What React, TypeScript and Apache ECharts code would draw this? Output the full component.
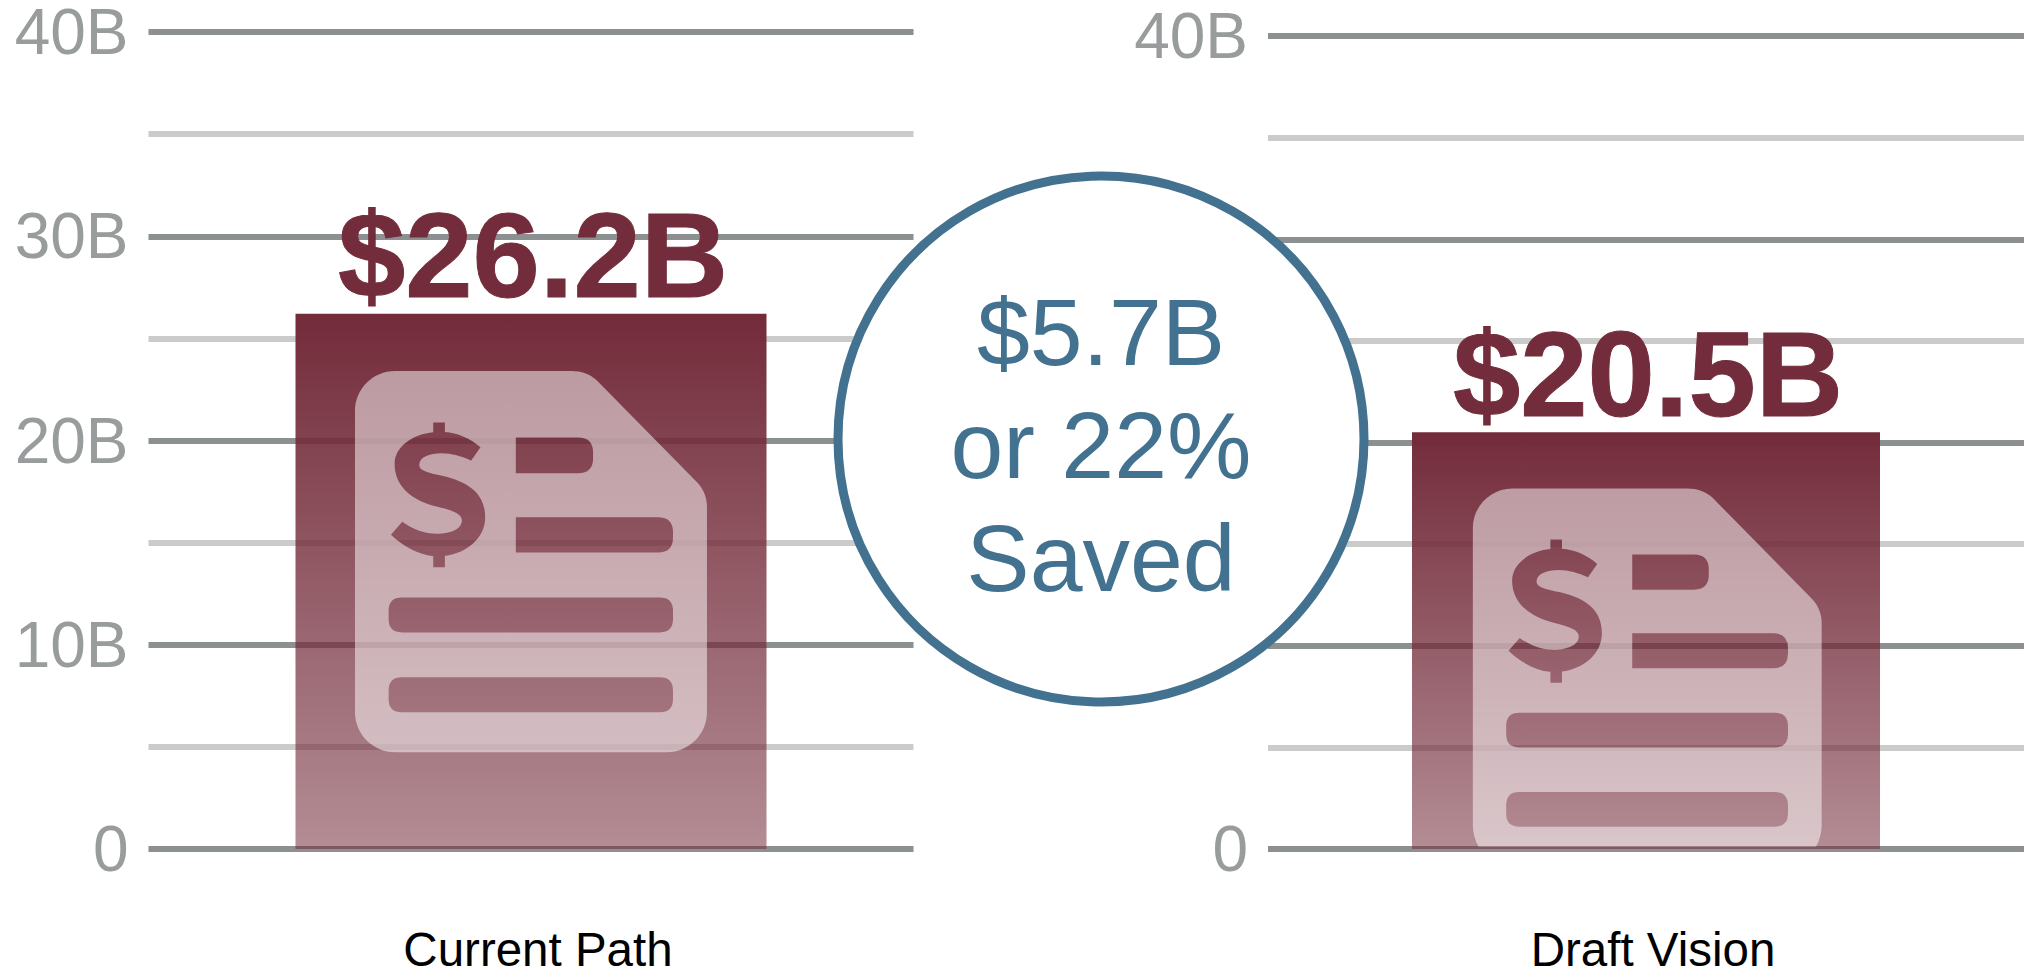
import React, { useEffect, useRef } from "react";
import * as echarts from "echarts";

const leftCategories = ["Current Path"];
const rightCategories = ["Draft Vision"];
const leftValues = [26.2];
const rightValues = [20.5];
const leftTickLabels = ["0", "10B", "20B", "30B", "40B"];
const rightTickLabels = ["0", "", "", "", "40B"];
const calloutLines = ["$5.7B", "or 22%", "Saved"];

const holes =
  "M528 233 L715 233 Q760 233 760 278 L760 295 Q760 340 715 340 L528 340 Z " +
  "M528 472 L955 472 Q1000 472 1000 517 L1000 533 Q1000 578 955 578 L528 578 Z " +
  "M186 713 L960 713 Q1000 713 1000 753 L1000 778 Q1000 818 960 818 L186 818 Q146 818 146 778 L146 753 Q146 713 186 713 Z " +
  "M186 953 L960 953 Q1000 953 1000 993 L1000 1018 Q1000 1058 960 1058 L186 1058 Q146 1058 146 1018 L146 993 Q146 953 186 953 Z " +
  "M280 188 L315 188 L315 216 C352 218 392 236 422 262 L394 302 C365 288 335 280 305 280 C268 280 238 292 238 315 C238 332 262 338 310 348 C385 366 436 400 436 472 C436 535 380 580 315 588 L315 622 L280 622 L280 589 C235 585 190 560 153 525 L187 486 C220 510 255 522 290 522 C335 522 366 506 366 482 C366 462 340 452 290 440 C225 424 164 385 164 312 C164 260 220 222 280 217 Z";
const docTail =
  "L1102 440 C1102 410 1090 385 1070 365 L770 60 C750 42 725 33 695 33 L165 33 C99 33 45 87 45 153 Z ";
const docFull = "M45 153 L45 1058 C45 1124 99 1178 165 1178 L982 1178 C1048 1178 1102 1124 1102 1058 " + docTail + holes;
const docCut = "M45 153 L45 1058 Q47 1092 62 1118 L1085 1118 Q1100 1092 1102 1058 " + docTail + holes;

echarts.graphic.registerShape("docFull", echarts.graphic.extendPath(docFull, {}) as any);
echarts.graphic.registerShape("docCut", echarts.graphic.extendPath(docCut, {}) as any);

const MAROON = "#732c3b";
const barGradient = new echarts.graphic.LinearGradient(0, 0, 0, 1, [
  { offset: 0, color: "rgba(115,43,58,1)" },
  { offset: 1, color: "rgba(115,43,58,0.54)" },
]);

function yAxis(gridIndex: number, labels: string[]) {
  return {
    type: "value",
    gridIndex,
    min: 0,
    max: 40,
    interval: 10,
    axisLine: { show: false },
    axisTick: { show: false },
    minorTick: { show: false, splitNumber: 2 },
    axisLabel: {
      margin: 20,
      fontFamily: "Liberation Sans",
      fontSize: 64,
      lineHeight: 50,
      color: "#989c9c",
      formatter: (_: number, i: number) => labels[i],
    },
    splitLine: { show: true, lineStyle: { color: "#8c9090", width: 6 } },
    minorSplitLine: { show: true, lineStyle: { color: "#cbcbcb", width: 6 } },
  };
}

function xAxis(gridIndex: number, data: string[]) {
  return {
    type: "category",
    gridIndex,
    data,
    axisLine: { show: false },
    axisTick: { show: false },
    axisLabel: {
      margin: 80,
      padding: [0, 0, 0, 14],
      fontFamily: "Liberation Sans",
      fontSize: 47.5,
      lineHeight: 40,
      color: "#000000",
    },
  };
}

function bar(index: number, data: number[], barWidth: number) {
  return {
    type: "bar",
    xAxisIndex: index,
    yAxisIndex: index,
    data,
    barWidth,
    itemStyle: { color: barGradient },
    label: {
      show: true,
      position: "top",
      distance: -2,
      offset: [2, 0],
      fontFamily: "Liberation Sans",
      fontWeight: "bold",
      fontSize: 121,
      color: MAROON,
      textBorderColor: MAROON,
      textBorderWidth: 1,
      formatter: (p: any) => `$${p.value}B`,
    },
  };
}

export default function App() {
  const ref = useRef<HTMLDivElement>(null);
  useEffect(() => {
    document.body.style.margin = "0";
    document.body.style.overflow = "hidden";
    const chart = echarts.init(ref.current!, undefined, { renderer: "svg" });
    chart.setOption({
      animation: false,
      backgroundColor: "#ffffff",
      grid: [
        { left: 148.5, top: 31, width: 765, height: 818.5 },
        { left: 1268, top: 36, width: 761, height: 813.5 },
      ],
      xAxis: [xAxis(0, leftCategories), xAxis(1, rightCategories)],
      yAxis: [yAxis(0, leftTickLabels), yAxis(1, rightTickLabels)],
      series: [bar(0, leftValues, 471), bar(1, rightValues, 468)],
      graphic: [
        {
          type: "docFull",
          x: 340,
          y: 360,
          scaleX: 1 / 3,
          scaleY: 1 / 3,
          z: 10,
          style: { fill: "rgba(255,255,255,0.5)" },
        },
        {
          type: "docCut",
          x: 1458,
          y: 477.5,
          scaleX: 0.99 / 3,
          scaleY: 0.99 / 3,
          z: 10,
          style: { fill: "rgba(255,255,255,0.5)" },
        },
        {
          type: "circle",
          z: 20,
          shape: { cx: 1101, cy: 439, r: 263 },
          style: { fill: "#ffffff", stroke: "#42728f", lineWidth: 9 },
        },
        ...calloutLines.map((text, i) => ({
          type: "text",
          z: 21,
          x: 1101,
          y: 332 + i * 113,
          style: {
            text,
            fontFamily: "Liberation Sans",
            fontSize: 95,
            fill: "#42728f",
            align: "center",
            verticalAlign: "middle",
          },
        })),
      ],
    });
    return () => chart.dispose();
  }, []);
  return <div ref={ref} style={{ position: "absolute", left: 0, top: 0, width: 2024, height: 973 }} />;
}
